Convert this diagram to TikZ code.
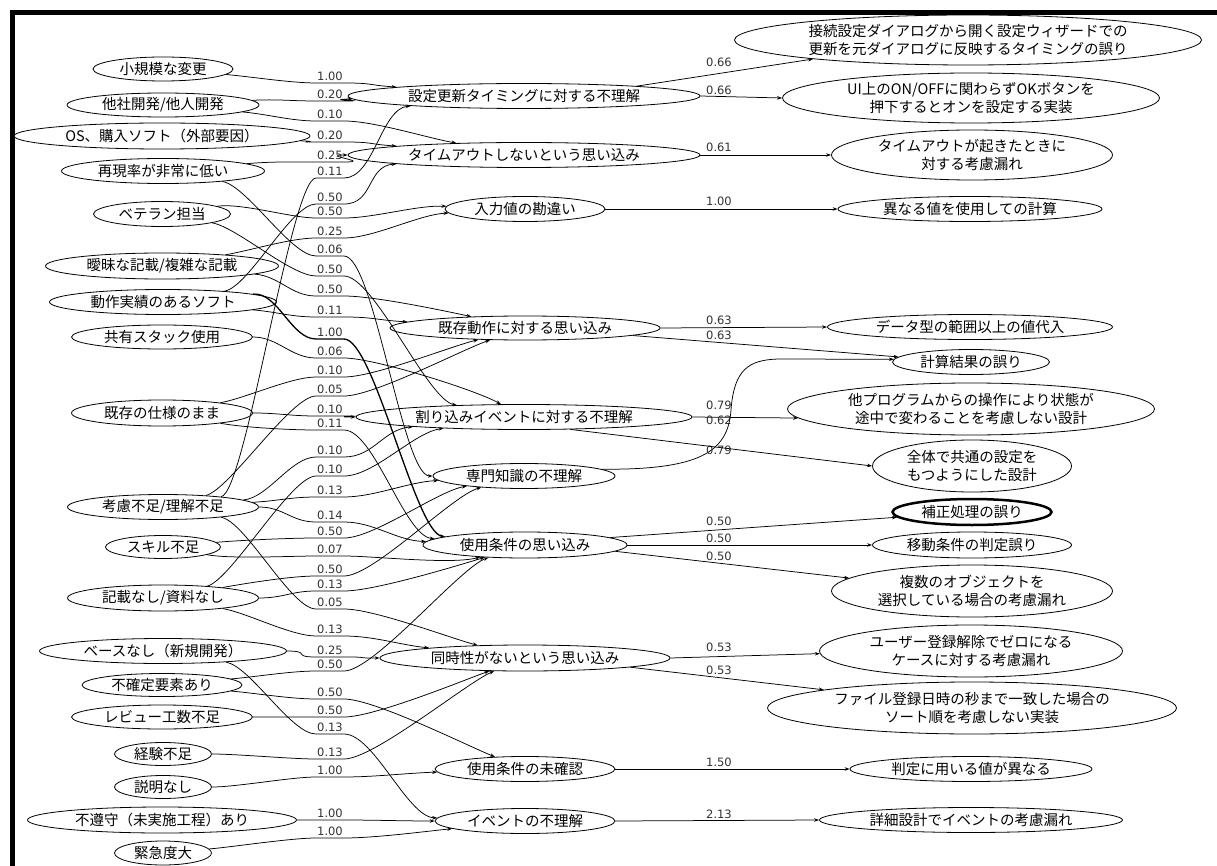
\documentclass[tikz,border=0pt]{standalone}
\usepackage{fontspec}
\newfontfamily\jpf{Noto Sans CJK JP}
\newfontfamily\numf{DejaVu Sans}
\usetikzlibrary{shapes.geometric,arrows.meta}
\tikzset{
  el/.style={draw, ellipse, inner sep=0pt, line width=0.8pt, align=center,
    font=\jpf\fontsize{14.5}{18}\selectfont},
  lnk/.style={line width=0.75pt, -{Stealth[length=5pt,width=3.5pt]}},
  lbl/.style={font=\numf\fontsize{11.5}{13}\selectfont, text=black!80, inner sep=0pt},
  bord/.style={line width=5pt, black},
}
\newcommand\lnkedge[7][]{%
  \node[lbl] (l#4) at (330,#4) {#5};
  \draw[lnk,#1] (#2.#3) to[out=#3,in=180,out distance=25pt,in distance=25pt] (316,{#4+7}) -- (344,{#4+7}) to[out=0,in=#7,out distance=30pt,in distance=30pt] (#6.#7);
}
\begin{document}
\begin{tikzpicture}[x=1pt,y=-1pt]
\fill[white] (0,0) rectangle (1217,866);
\useasboundingbox (0,0) rectangle (1217,866);
\draw[bord] (10,12.5) -- (1217,12.5);
\draw[bord] (12,10) -- (12,866);

% left column
\node[el, minimum width=140pt, minimum height=24pt] (L1) at (163,69) {小規模な変更};
\node[el, minimum width=192pt, minimum height=24pt] (L2) at (163,105) {他社開発/他人開発};
\node[el, minimum width=296pt, minimum height=26pt] (L3) at (162,136) {OS、購入ソフト（外部要因）};
\node[el, minimum width=203pt, minimum height=25pt] (L4) at (163,171) {再現率が非常に低い};
\node[el, minimum width=137pt, minimum height=25pt] (L5) at (162,214) {ベテラン担当};
\node[el, minimum width=233pt, minimum height=26pt] (L6) at (162,266) {曖昧な記載/複雑な記載};
\node[el, minimum width=227pt, minimum height=25pt] (L7) at (163,302) {動作実績のあるソフト};
\node[el, minimum width=181pt, minimum height=24pt] (L8) at (162,337) {共有スタック使用};
\node[el, minimum width=181pt, minimum height=26pt] (L9) at (162,413) {既存の仕様のまま};
\node[el, minimum width=191pt, minimum height=25pt] (L10) at (163,507) {考慮不足/理解不足};
\node[el, minimum width=115pt, minimum height=23pt] (L11) at (163,547) {スキル不足};
\node[el, minimum width=191pt, minimum height=26pt] (L12) at (163,598) {記載なし/資料なし};
\node[el, minimum width=247pt, minimum height=25pt] (L13) at (163,651) {ベースなし（新規開発）};
\node[el, minimum width=160pt, minimum height=23pt] (L14) at (162,685) {不確定要素あり};
\node[el, minimum width=181pt, minimum height=24pt] (L15) at (162,717) {レビュー工数不足};
\node[el, minimum width=97pt, minimum height=23pt] (L16) at (163,754) {経験不足};
\node[el, minimum width=97pt, minimum height=23pt] (L17) at (163,787) {説明なし};
\node[el, minimum width=269pt, minimum height=26pt] (L18) at (162,820) {不遵守（未実施工程）あり};
\node[el, minimum width=97pt, minimum height=24pt] (L19) at (163,853) {緊急度大};

% middle column
\node[el, minimum width=352pt, minimum height=25pt] (A) at (524,96) {設定更新タイミングに対する不理解};
\node[el, minimum width=352pt, minimum height=25pt] (B) at (524,155) {タイムアウトしないという思い込み};
\node[el, minimum width=160pt, minimum height=25pt] (C) at (525,209) {入力値の勘違い};
\node[el, minimum width=270pt, minimum height=24pt] (D) at (525,328) {既存動作に対する思い込み};
\node[el, minimum width=336pt, minimum height=25pt] (E) at (524,417) {割り込みイベントに対する不理解};
\node[el, minimum width=182pt, minimum height=25pt] (F) at (524,476) {専門知識の不理解};
\node[el, minimum width=204pt, minimum height=26pt] (G) at (525,545) {使用条件の思い込み};
\node[el, minimum width=290pt, minimum height=26pt] (H) at (525,658) {同時性がないという思い込み};
\node[el, minimum width=180pt, minimum height=25pt] (I) at (525,769) {使用条件の未確認};
\node[el, minimum width=180pt, minimum height=25pt] (J) at (525,821) {イベントの不理解};

% right column
\node[el, minimum width=467pt, minimum height=50pt] (R1) at (968,40) {接続設定ダイアログから開く設定ウィザードでの\\更新を元ダイアログに反映するタイミングの誤り};
\node[el, minimum width=377pt, minimum height=50pt] (R2) at (971,98) {UI上のON/OFFに関わらずOKボタンを\\押下するとオンを設定する実装};
\node[el, minimum width=281pt, minimum height=50pt] (R3) at (972,155) {タイムアウトが起きたときに\\対する考慮漏れ};
\node[el, minimum width=264pt, minimum height=25pt] (R4) at (970,209) {異なる値を使用しての計算};
\node[el, minimum width=285pt, minimum height=25pt] (R5) at (970,327) {データ型の範囲以上の値代入};
\node[el, minimum width=157pt, minimum height=25pt] (R6) at (971,362) {計算結果の誤り};
\node[el, minimum width=367pt, minimum height=52pt] (R7) at (971,409) {他プログラムからの操作により状態が\\途中で変わることを考慮しない設計};
\node[el, minimum width=199pt, minimum height=52pt] (R8) at (972,466) {全体で共通の設定を\\もつようにした設計};
\node[el, line width=2.5pt, minimum width=159pt, minimum height=26pt] (R9) at (972,512) {補正処理の誤り};
\node[el, minimum width=199pt, minimum height=26pt] (R10) at (972,545) {移動条件の判定誤り};
\node[el, minimum width=281pt, minimum height=52pt] (R11) at (972,591) {複数のオブジェクトを\\選択している場合の考慮漏れ};
\node[el, minimum width=303pt, minimum height=52pt] (R12) at (971,651) {ユーザー登録解除でゼロになる\\ケースに対する考慮漏れ};
\node[el, minimum width=409pt, minimum height=52pt] (R13) at (972,708) {ファイル登録日時の秒まで一致した場合の\\ソート順を考慮しない実装};
\node[el, minimum width=242pt, minimum height=25pt] (R14) at (971,769) {判定に用いる値が異なる};
\node[el, minimum width=303pt, minimum height=25pt] (R15) at (971,820) {詳細設計でイベントの考慮漏れ};

% left -> middle edges
\lnkedge{L1}{355}{76}{1.00}{A}{176}
\lnkedge{L2}{3}{94}{0.20}{A}{181}
\lnkedge{L2}{355}{114}{0.10}{B}{170}
\lnkedge{L3}{358}{135}{0.20}{B}{176}
\lnkedge{L4}{5}{155}{0.25}{B}{180}
\lnkedge{L10}{10}{171}{0.11}{A}{185}
\lnkedge{L7}{10}{197}{0.50}{B}{184}
\lnkedge{L5}{8}{211}{0.50}{C}{178}
\lnkedge{L6}{10}{231}{0.25}{C}{183}
\lnkedge{L4}{350}{249}{0.06}{F}{180}
\lnkedge{L5}{350}{269}{0.50}{E}{170}
\lnkedge{L6}{355}{289}{0.50}{D}{168}
\lnkedge{L7}{355}{310}{0.11}{D}{177}
\lnkedge[line width=1.3pt]{L7}{5}{332}{1.00}{G}{174}
\lnkedge{L8}{0}{351}{0.06}{E}{151}
\lnkedge{L9}{10}{370}{0.10}{D}{194}
\lnkedge{L10}{15}{389}{0.05}{D}{199}
\lnkedge{L9}{0}{409}{0.10}{E}{180}
\lnkedge{L9}{350}{423}{0.11}{G}{176}
\lnkedge{L10}{5}{450}{0.10}{E}{185}
\lnkedge{L12}{15}{469}{0.10}{E}{188}
\lnkedge{L10}{3}{490}{0.13}{F}{183}
\lnkedge{L10}{0}{515}{0.14}{G}{178}
\lnkedge{L11}{5}{531}{0.50}{F}{190}
\lnkedge{L11}{350}{549}{0.07}{G}{195}
\lnkedge{L12}{10}{569}{0.50}{F}{195}
\lnkedge{L12}{0}{584}{0.13}{G}{197}
\lnkedge{L10}{350}{602}{0.05}{H}{165}
\lnkedge{L12}{350}{629}{0.13}{H}{174}
\lnkedge{L13}{0}{650}{0.25}{H}{180}
\lnkedge{L14}{5}{664}{0.50}{G}{199}
\lnkedge{L14}{355}{692}{0.50}{I}{158}
\lnkedge{L15}{0}{710}{0.50}{H}{200}
\lnkedge{L13}{350}{727}{0.13}{J}{178}
\lnkedge{L16}{0}{752}{0.13}{H}{203}
\lnkedge{L17}{0}{770}{1.00}{I}{182}
\lnkedge{L18}{0}{813}{1.00}{J}{180}
\lnkedge{L19}{5}{831}{1.00}{J}{186}

% middle -> right edges
\node[lbl] (r62) at (719,62) {0.66};
\draw[lnk] (A.5) -- (R1.187);
\node[lbl] (r90) at (719,90) {0.66};
\draw[lnk] (A.0) -- (R2.180);
\node[lbl] (r147) at (719,147) {0.61};
\draw[lnk] (B.0) -- (R3.180);
\node[lbl] (r201) at (719,201) {1.00};
\draw[lnk] (C.0) -- (R4.180);
\node[lbl] (r320) at (719,320) {0.63};
\draw[lnk] (D.0) -- (R5.180);
\node[lbl] (r335) at (719,335) {0.63};
\draw[lnk] (D.356) -- (R6.176);
\node[lbl] (r405) at (719,405) {0.79};
\draw[lnk] (E.0) -- (R7.183);
\node[lbl] (r420) at (719,420) {0.62};
\draw[lnk] (F.5) .. controls (700,470) and (728,452) .. (731,410) .. controls (734,370) and (748,360) .. (778,359) -- (R6.178);
\node[lbl] (r450) at (719,450) {0.79};
\draw[lnk] (E.345) -- (R8.180);
\node[lbl] (r521) at (719,521) {0.50};
\draw[lnk] (G.5) -- (R9.184);
\node[lbl] (r538) at (719,538) {0.50};
\draw[lnk] (G.0) -- (R10.180);
\node[lbl] (r556) at (719,556) {0.50};
\draw[lnk] (G.356) -- (R11.174);
\node[lbl] (r647) at (719,647) {0.53};
\draw[lnk] (H.0) -- (R12.181);
\node[lbl] (r670) at (719,670) {0.53};
\draw[lnk] (H.355) -- (R13.173);
\node[lbl] (r762) at (719,762) {1.50};
\draw[lnk] (I.0) -- (R14.180);
\node[lbl] (r814) at (719,814) {2.13};
\draw[lnk] (J.0) -- (R15.180);
\end{tikzpicture}
\end{document}
